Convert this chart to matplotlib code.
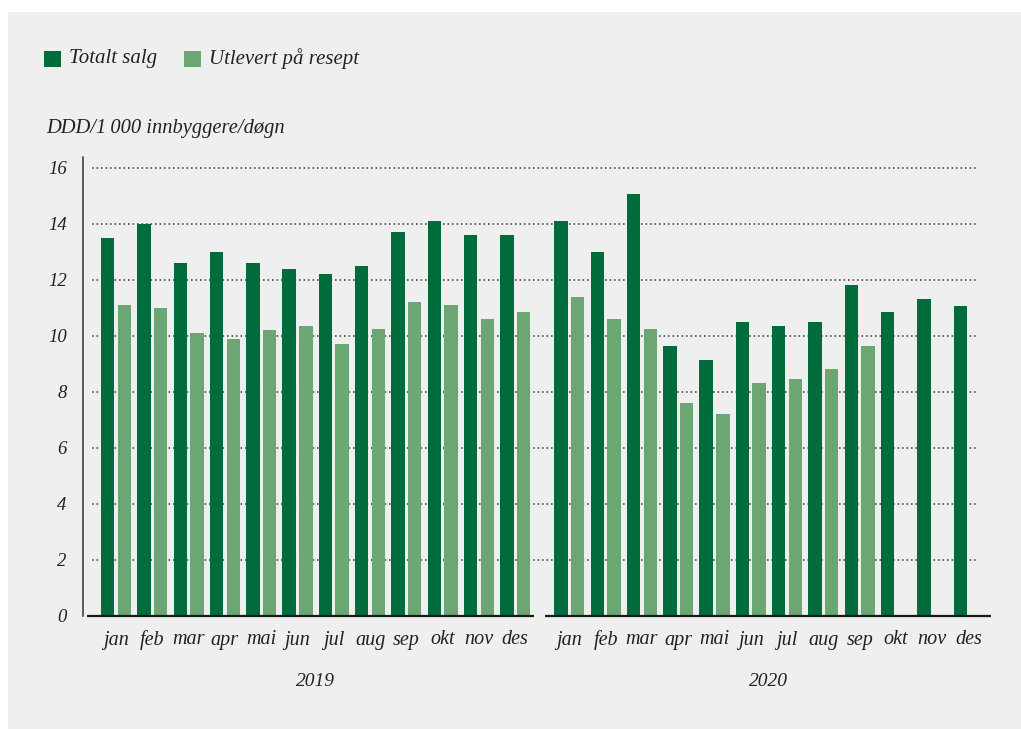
import numpy as np
import matplotlib
matplotlib.use("Agg")
import matplotlib.pyplot as plt
from matplotlib.patches import Rectangle

months = ["jan", "feb", "mar", "apr", "mai", "jun", "jul", "aug", "sep", "okt", "nov", "des"]
years = ["2019", "2020"]

# DDD/1000 innbyggere/døgn
totalt_2019 = [13.5, 14.0, 12.6, 13.0, 12.6, 12.4, 12.2, 12.5, 13.7, 14.1, 13.6, 13.6]
resept_2019 = [11.1, 11.0, 10.1, 9.9, 10.2, 10.35, 9.7, 10.25, 11.2, 11.1, 10.6, 10.85]
totalt_2020 = [14.1, 13.0, 15.05, 9.65, 9.15, 10.5, 10.35, 10.5, 11.8, 10.85, 11.3, 11.05]
resept_2020 = [11.4, 10.6, 10.25, 7.6, 7.2, 8.3, 8.45, 8.8, 9.65, None, None, None]

dark = "#006c3b"
light = "#6ba673"
txt = "#222222"
W, H = 1021, 729

plt.rcParams['font.family'] = ['Liberation Serif', 'DejaVu Serif']
plt.rcParams['font.style'] = 'italic'

fig = plt.figure(figsize=(W / 100, H / 100), dpi=100, facecolor="white")
fig.patches.append(Rectangle((8 / W, 0), 1, 1 - 12 / H, transform=fig.transFigure,
                             facecolor="#efefef", edgecolor="none", zorder=-10))

def fx(px):
    return px / W

def fy(py):
    return 1 - py / H

# axes: left spine at 83.3px, right at 991px, top 157px, bottom 616px
ax = fig.add_axes([fx(83.3), fy(616), fx(991 - 83.3), (616 - 157) / H])
ax.set_facecolor("none")

pitch = 36.3
x0 = 116
gap = 0.4875
pos19 = np.arange(12)
pos20 = np.arange(12) + 12 + gap
bw = 0.37
off = 0.23

ax.bar(pos19 - off, totalt_2019, bw, color=dark, zorder=3)
ax.bar(pos19 + off, resept_2019, bw, color=light, zorder=3)
ax.bar(pos20 - off, totalt_2020, bw, color=dark, zorder=3)
r20 = [np.nan if v is None else v for v in resept_2020]
ax.bar(pos20 + off, r20, bw, color=light, zorder=3)

xl = (83.3 - x0) / pitch
xr = (991 - x0) / pitch
ax.set_xlim(xl, xr)
ax.set_ylim(0, (616 - 157) / 28.02)

# dotted grid
gl, gr = (91.7 - x0) / pitch, (978 - x0) / pitch
for v in range(2, 17, 2):
    ax.plot([gl, gr], [v, v], color="#4d4d4d", lw=1.2, linestyle=(0, (1, 1.7)), zorder=1)

# baseline in two pieces
ax.plot([(87.3 - x0) / pitch, (533.8 - x0) / pitch], [0, 0], color="#1a1a1a", lw=1.6,
        zorder=4, clip_on=False, solid_capstyle="butt")
ax.plot([(544.5 - x0) / pitch, xr], [0, 0], color="#1a1a1a", lw=1.6,
        zorder=4, clip_on=False, solid_capstyle="butt")

for s in ["top", "right", "bottom"]:
    ax.spines[s].set_visible(False)
ax.spines["left"].set_color("#333333")
ax.spines["left"].set_linewidth(1.1)

ax.set_yticks(range(0, 17, 2))
ax.set_yticklabels([str(v) for v in range(0, 17, 2)], fontsize=13.5, color=txt)
ax.tick_params(axis="y", length=0, pad=12)
ax.set_xticks([])

for p, m in zip(list(pos19) + list(pos20), months * 2):
    ax.annotate(m, xy=(p, 0), xycoords=("data", "axes fraction"),
                xytext=(0, -24 * 0.72), textcoords="offset points",
                ha="center", va="center", fontsize=14.5, color=txt)
for p, y in zip([pos19.mean(), pos20.mean()], years):
    ax.annotate(y, xy=(p, 0), xycoords=("data", "axes fraction"),
                xytext=(0, -66 * 0.72), textcoords="offset points",
                ha="center", va="center", fontsize=14, color=txt)

# legend
fig.patches.append(Rectangle((fx(44.3), fy(67)), fx(16.7), 16.3 / H, transform=fig.transFigure,
                             facecolor=dark, edgecolor="none"))
fig.text(fx(69), fy(58.5), "Totalt salg", fontsize=15, color=txt, va="center", ha="left")
fig.patches.append(Rectangle((fx(184.3), fy(67)), fx(16.7), 16.3 / H, transform=fig.transFigure,
                             facecolor=light, edgecolor="none"))
fig.text(fx(208.7), fy(58.5), "Utlevert på resept", fontsize=15, color=txt, va="center", ha="left")

fig.text(fx(46), fy(128), "DDD/1\u2009000 innbyggere/døgn", fontsize=14.8, color=txt,
         va="center", ha="left")

fig.savefig("out.png", dpi=100, facecolor="white")
